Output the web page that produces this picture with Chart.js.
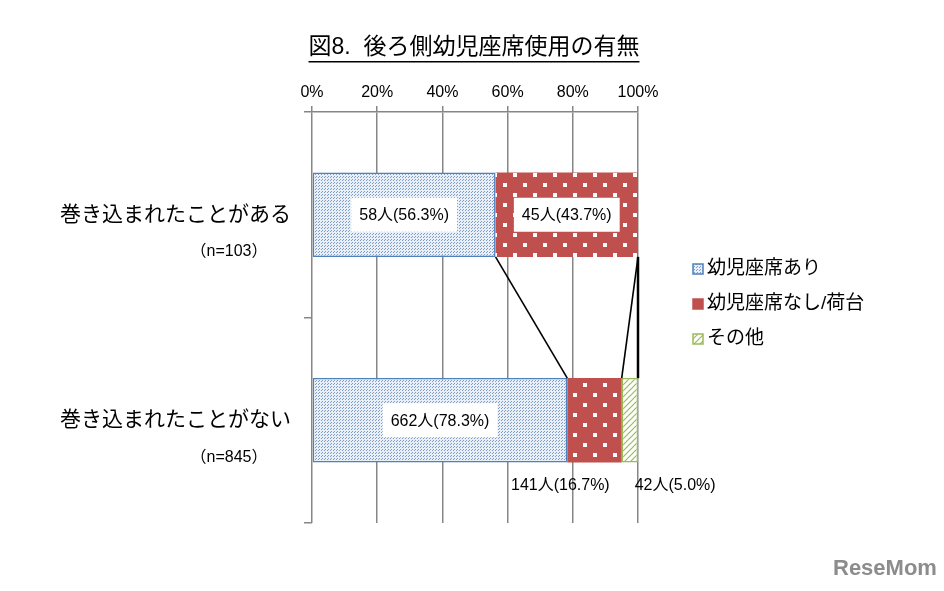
<!DOCTYPE html>
<html>
<head>
<meta charset="utf-8">
<script src="https://cdn.jsdelivr.net/npm/chart.js@4"></script>
<style>
  body { margin: 0; background: #fff; }
  #wrap { width: 944px; height: 591px; }
</style>
</head>
<body>
<div id="wrap"><canvas id="chart"></canvas></div>
<script>
// data
const categories = ['巻き込まれたことがある', '巻き込まれたことがない'];
const sampleSizes = ['（n=103）', '（n=845）'];
const seriesNames = ['幼児座席あり', '幼児座席なし/荷台', 'その他'];
const withSeat = [56.3, 78.3];
const noSeat = [43.7, 16.7];
const other = [0, 5.0];
const withSeatCount = [58, 662];
const noSeatCount = [45, 141];
const otherCount = [0, 42];
const xTicks = [0, 20, 40, 60, 80, 100];
const chartTitle = '図8.  後ろ側幼児座席使用の有無';

const FONT = '"Liberation Sans", "Noto Sans CJK JP", sans-serif';

// fill patterns
function makePattern(w, h, draw) {
    const c = document.createElement('canvas');
    c.width = w; c.height = h;
    const g = c.getContext('2d');
    draw(g);
    return g.createPattern(c, 'repeat');
}
const bluePat = makePattern(3, 3, g => {
    g.fillStyle = '#e9eff7'; g.fillRect(0, 0, 3, 3);
    g.fillStyle = '#7d9bc5'; g.fillRect(0, 0, 1, 1); g.fillRect(1, 2, 1, 1);
});
const redPat = makePattern(20, 20, g => {
    g.fillStyle = '#c0504d'; g.fillRect(0, 0, 20, 20);
    g.fillStyle = '#ffffff'; g.fillRect(3, 3, 4, 4); g.fillRect(13, 13, 4, 4);
});
const greenPat = makePattern(6, 6, g => {
    g.fillStyle = '#ffffff'; g.fillRect(0, 0, 6, 6);
    g.strokeStyle = '#9bbb59'; g.lineWidth = 1.2;
    g.beginPath(); g.moveTo(0, 6); g.lineTo(6, 0); g.stroke();
    g.beginPath(); g.moveTo(-1, 1); g.lineTo(1, -1); g.stroke();
    g.beginPath(); g.moveTo(5, 7); g.lineTo(7, 5); g.stroke();
});

const counts = [withSeatCount, noSeatCount, otherCount];

// title, category labels, legend, connector lines, value labels
const decorPlugin = {
    id: 'decor',
    afterDatasetsDraw(chart) {
        const ctx = chart.ctx;
        const metas = [0, 1, 2].map(i => chart.getDatasetMeta(i));

        // connector lines between the two bars
        ctx.save();
        ctx.strokeStyle = '#000';
        metas.forEach((m, i) => {
            const a = m.data[0], b = m.data[1];
            ctx.lineWidth = i === 2 ? 2.5 : 1.6;
            ctx.beginPath();
            ctx.moveTo(a.x, a.y + a.height / 2);
            ctx.lineTo(b.x, b.y - b.height / 2);
            ctx.stroke();
        });
        ctx.restore();

        // value labels
        ctx.save();
        ctx.font = '16px ' + FONT;
        ctx.textBaseline = 'middle';
        metas.forEach((m, i) => {
            m.data.forEach((bar, j) => {
                const v = chart.data.datasets[i].data[j];
                if (!v) return;
                const txt = counts[i][j] + '人(' + v.toFixed(1) + '%)';
                const tw = ctx.measureText(txt).width;
                const w = bar.x - bar.base;
                if (w > tw + 30) {
                    const cx = (bar.x + bar.base) / 2;
                    ctx.fillStyle = '#fff';
                    ctx.fillRect(cx - tw / 2 - 8, bar.y - 17, tw + 16, 34);
                    ctx.fillStyle = '#000';
                    ctx.textAlign = 'center';
                    ctx.fillText(txt, cx, bar.y + 1);
                } else {
                    const y = bar.y + bar.height / 2 + 23;
                    ctx.fillStyle = '#000';
                    if (i < 2) {
                        ctx.textAlign = 'right';
                        ctx.fillText(txt, bar.x - 12, y);
                    } else {
                        ctx.textAlign = 'left';
                        ctx.fillText(txt, bar.base + 13, y);
                    }
                }
            });
        });
        ctx.restore();
    },
    afterDraw(chart) {
        const ctx = chart.ctx;
        const yScale = chart.scales.y;
        ctx.save();
        // title
        ctx.font = '23px ' + FONT;
        ctx.fillStyle = '#000';
        ctx.textAlign = 'center';
        ctx.textBaseline = 'middle';
        ctx.fillText(chartTitle, 474, 48);
        const tw = ctx.measureText(chartTitle).width;
        ctx.fillRect(474 - tw / 2, 61, tw, 1.5);

        // category labels
        categories.forEach((c, i) => {
            const y = yScale.getPixelForValue(i);
            ctx.font = '21px ' + FONT;
            ctx.textAlign = 'right';
            ctx.fillText(c, 291, y);
            ctx.font = '16px ' + FONT;
            ctx.textAlign = 'center';
            ctx.fillText(sampleSizes[i], 229, y + 37);
        });

        // legend
        const pats = [bluePat, redPat, greenPat];
        const borders = ['#4f81bd', '#c0504d', '#9bbb59'];
        ctx.font = '19px ' + FONT;
        ctx.textAlign = 'left';
        seriesNames.forEach((s, i) => {
            const y = 269 + i * 35;
            ctx.fillStyle = pats[i];
            ctx.fillRect(693, y - 5, 10, 10);
            ctx.strokeStyle = borders[i];
            ctx.lineWidth = 1.5;
            ctx.strokeRect(693, y - 5, 10, 10);
            ctx.fillStyle = '#000';
            ctx.fillText(s, 707, y);
        });

        // watermark
        ctx.font = 'bold 22px ' + FONT;
        ctx.fillStyle = '#8c8c8c';
        ctx.textAlign = 'left';
        ctx.fillText('ReseMom', 833, 569);
        ctx.restore();
    }
};

new Chart(document.getElementById('chart'), {
    type: 'bar',
    data: {
        labels: categories,
        datasets: [
            { label: seriesNames[0], data: withSeat, backgroundColor: bluePat, borderColor: '#4f81bd', borderWidth: 1.5, borderSkipped: false },
            { label: seriesNames[1], data: noSeat, backgroundColor: redPat, borderColor: '#c0504d', borderWidth: 0, borderSkipped: false },
            { label: seriesNames[2], data: other, backgroundColor: greenPat, borderColor: '#9bbb59', borderWidth: 1.5, borderSkipped: false }
        ]
    },
    options: {
        indexAxis: 'y',
        responsive: true,
        maintainAspectRatio: false,
        animation: false,
        categoryPercentage: 1,
        barPercentage: 0.41,
        layout: { padding: { left: 292, right: 306, top: 0, bottom: 68 } },
        plugins: {
            legend: { display: false },
            title: { display: false },
            tooltip: { enabled: false }
        },
        scales: {
            x: {
                position: 'top',
                stacked: true,
                min: 0,
                max: 100,
                afterBuildTicks: s => { s.ticks = xTicks.map(v => ({ value: v })); },
                afterFit: s => { s.height = 112; },
                ticks: {
                    callback: v => v + '%',
                    color: '#000',
                    font: { size: 16, family: FONT },
                    padding: 4,
                    maxRotation: 0
                },
                grid: { color: '#868686', lineWidth: 1.5, tickLength: 6 },
                border: { display: true, color: '#868686', width: 1.5 }
            },
            y: {
                stacked: true,
                afterFit: s => { s.width = 20; },
                ticks: { display: false },
                grid: { color: '#868686', lineWidth: 1.5, drawOnChartArea: false, tickLength: 8, offset: true },
                border: { display: false }
            }
        }
    },
    plugins: [decorPlugin]
});
</script>
</body>
</html>
